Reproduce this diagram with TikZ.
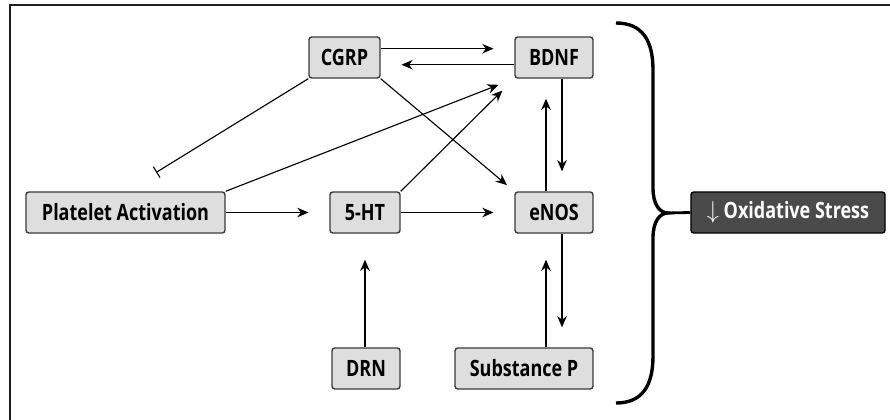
\documentclass[tikz,border=0pt]{standalone}
\usepackage{fontspec}
\setmainfont{Open Sans}[FakeStretch=0.8]
\usetikzlibrary{arrows.meta}
\definecolor{boxfill}{HTML}{DEDEDE}
\definecolor{boxline}{HTML}{3C3C3C}
\definecolor{darkfill}{HTML}{4A4A4A}
\tikzset{
  box/.style={draw=boxline, line width=1pt, fill=boxfill, rounded corners=2pt,
    minimum height=1.025cm, inner sep=0pt, align=center,
    font=\bfseries\fontsize{16}{18}\selectfont},
  darkbox/.style={box, fill=darkfill, draw=black, text=white},
  arr/.style={line width=0.8pt, -{Stealth[length=0.28cm,width=0.24cm]}},
  inh/.style={line width=0.8pt, -{Bar[width=0.32cm,line width=0.8pt]}},
}
\begin{document}
\begin{tikzpicture}[x=0.025cm,y=-0.025cm]
\useasboundingbox (0,0) rectangle (890,420);
% frame (top and left edges)
\draw[line width=1.5pt, black!88] (10,420) -- (10,5) -- (890,5);
% nodes
\node[box, minimum width=1.775cm] (cgrp) at (344.5,57.5) {CGRP};
\node[box, minimum width=1.95cm] (bdnf) at (554,57.5) {BDNF};
\node[box, minimum width=4.975cm] (plt) at (125.5,212.5) {Platelet Activation};
\node[box, minimum width=1.75cm] (ht) at (365,212.5) {5-HT};
\node[box, minimum width=1.95cm] (enos) at (554,212.5) {eNOS};
\node[box, minimum width=1.7cm] (drn) at (366,368.5) {DRN};
\node[box, minimum width=3.45cm] (subp) at (524,368.5) {Substance P};
\node[darkbox, minimum width=4.85cm] (ox) at (788,212.5) {$\downarrow$ Oxidative Stress};
% connectors
\draw[arr, shorten >=0.52cm] ([yshift=0.22cm]cgrp.east) -- ([yshift=0.22cm]bdnf.west);
\draw[arr, shorten >=0.52cm] ([yshift=-0.18cm]bdnf.west) -- ([yshift=-0.18cm]cgrp.east);
\draw[inh, shorten >=0.9cm] (cgrp.south west) -- (plt.north);
\draw[arr, shorten >=0.24cm] (cgrp.south east) -- (enos.north west);
\draw[arr, shorten >=0.42cm] (plt.north east) -- (bdnf.south west);
\draw[arr, shorten >=0.42cm] (ht.north east) -- (bdnf.south west);
\draw[arr, shorten >=0.5cm] ([xshift=0.2cm]bdnf.south) -- ([xshift=0.2cm]enos.north);
\draw[arr, shorten >=0.5cm] ([xshift=-0.2cm]enos.north) -- ([xshift=-0.2cm]bdnf.south);
\draw[arr, shorten >=0.52cm] (plt.east) -- (ht.west);
\draw[arr, shorten >=0.52cm] (ht.east) -- (enos.west);
\draw[arr, shorten >=0.65cm] (drn.north -| ht.south) -- (ht.south);
\draw[arr, shorten >=0.5cm] ([xshift=0.2cm]enos.south) -- ([xshift=0.2cm]enos.south |- subp.north);
\draw[arr, shorten >=0.65cm] ([xshift=-0.2cm]enos.south |- subp.north) -- ([xshift=-0.2cm]enos.south);
% brace
\coordinate (tip) at (668,213);
\draw[line width=2.4pt] (616,23) .. controls (642,23) and (653,40) .. (653,70)
  -- (653,188) .. controls (653,205) and (660,213) .. (tip)
  .. controls (660,213) and (653,221) .. (653,238)
  -- (653,356) .. controls (653,386) and (642,403) .. (616,403);
\draw[line width=2pt] (tip) -- (ox.west);
\end{tikzpicture}
\end{document}
